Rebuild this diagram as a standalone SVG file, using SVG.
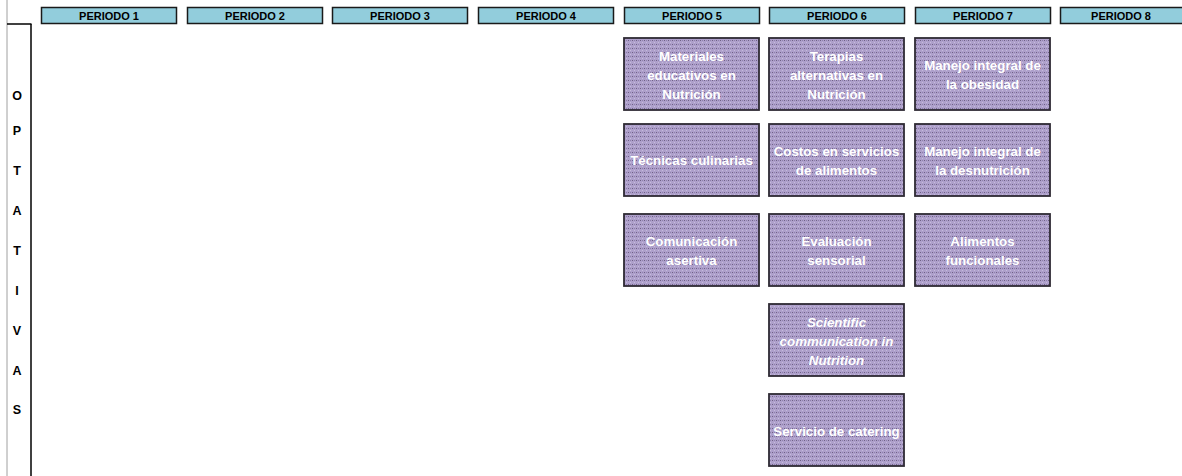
<svg xmlns="http://www.w3.org/2000/svg" width="1182" height="476" viewBox="0 0 1182 476">
<style>
.hdr rect{fill:#92cddc;stroke:#1a1a1a;stroke-width:1.5}
.hdr text{font-family:"Liberation Sans",Arial,sans-serif;font-weight:bold;font-size:11px;fill:#000;text-anchor:middle}
.node rect{fill:url(#dots);stroke:#2e2a33;stroke-width:1.8}
.node text{font-family:"Liberation Sans",Arial,sans-serif;font-weight:bold;font-size:13.3px;fill:#fff;text-anchor:middle}
.side text{font-family:"Liberation Sans",Arial,sans-serif;font-weight:bold;font-size:12.5px;fill:#000;text-anchor:middle}
</style>
<defs>
<pattern id="dots" width="4" height="4" patternUnits="userSpaceOnUse">
<rect width="4" height="4" fill="#aea0cb"/>
<rect x="0" y="0" width="1" height="1" fill="#6f6186"/>
<rect x="2" y="2" width="1" height="1" fill="#c6bcdc"/>
<rect x="2" y="0" width="1" height="1" fill="#8f80ad"/>
</pattern>
</defs>
<rect width="1182" height="476" fill="#fff"/>
<g id="frame">
<line x1="7" y1="0" x2="7" y2="476" stroke="#a0a0a0" stroke-width="1"/>
<line x1="7" y1="24" x2="31.5" y2="24" stroke="#000" stroke-width="1.5"/>
<line x1="31" y1="24" x2="31" y2="476" stroke="#000" stroke-width="1.5"/>
</g>
<g id="side" class="side">
<text x="17" y="100">O</text>
<text x="17" y="135">P</text>
<text x="17" y="175">T</text>
<text x="17" y="215">A</text>
<text x="17" y="255">T</text>
<text x="17" y="295">I</text>
<text x="17" y="335">V</text>
<text x="17" y="375">A</text>
<text x="17" y="414">S</text>
</g>
<g id="headers" class="hdr">
<g id="p1"><rect x="41.5" y="7.5" width="135" height="16"/><text x="109" y="19.5">PERIODO 1</text></g>
<g id="p2"><rect x="187.5" y="7.5" width="135" height="16"/><text x="255" y="19.5">PERIODO 2</text></g>
<g id="p3"><rect x="332.5" y="7.5" width="135" height="16"/><text x="400" y="19.5">PERIODO 3</text></g>
<g id="p4"><rect x="478.5" y="7.5" width="135" height="16"/><text x="546" y="19.5">PERIODO 4</text></g>
<g id="p5"><rect x="624.5" y="7.5" width="135" height="16"/><text x="692" y="19.5">PERIODO 5</text></g>
<g id="p6"><rect x="769.5" y="7.5" width="135" height="16"/><text x="837" y="19.5">PERIODO 6</text></g>
<g id="p7"><rect x="915.5" y="7.5" width="135" height="16"/><text x="983" y="19.5">PERIODO 7</text></g>
<g id="p8"><rect x="1060.5" y="7.5" width="135" height="16"/><text x="1121" y="19.5">PERIODO 8</text></g>
</g>
<g id="connectors"></g>
<g id="n1" class="node"><rect x="624" y="38" width="135" height="72"/><text x="691.5" y="61">Materiales</text><text x="691.5" y="80">educativos en</text><text x="691.5" y="99">Nutrición</text></g>
<g id="n2" class="node"><rect x="769" y="38" width="135" height="72"/><text x="836.5" y="61">Terapias</text><text x="836.5" y="80">alternativas en</text><text x="836.5" y="99">Nutrición</text></g>
<g id="n3" class="node"><rect x="915" y="38" width="135" height="72"/><text x="982.5" y="69.5">Manejo integral de</text><text x="982.5" y="88.5">la obesidad</text></g>
<g id="n4" class="node"><rect x="624" y="124" width="135" height="72"/><text x="691.5" y="165">Técnicas culinarias</text></g>
<g id="n5" class="node"><rect x="769" y="124" width="135" height="72"/><text x="836.5" y="155.5">Costos en servicios</text><text x="836.5" y="174.5">de alimentos</text></g>
<g id="n6" class="node"><rect x="915" y="124" width="135" height="72"/><text x="982.5" y="155.5">Manejo integral de</text><text x="982.5" y="174.5">la desnutrición</text></g>
<g id="n7" class="node"><rect x="624" y="214" width="135" height="72"/><text x="691.5" y="245.5">Comunicación</text><text x="691.5" y="264.5">asertiva</text></g>
<g id="n8" class="node"><rect x="769" y="214" width="135" height="72"/><text x="836.5" y="245.5">Evaluación</text><text x="836.5" y="264.5">sensorial</text></g>
<g id="n9" class="node"><rect x="915" y="214" width="135" height="72"/><text x="982.5" y="245.5">Alimentos</text><text x="982.5" y="264.5">funcionales</text></g>
<g id="n10" class="node"><rect x="769" y="304" width="135" height="72"/><text x="836.5" y="327" font-style="italic">Scientific</text><text x="836.5" y="346" font-style="italic">communication in</text><text x="836.5" y="365" font-style="italic">Nutrition</text></g>
<g id="n11" class="node"><rect x="769" y="394" width="135" height="72"/><text x="836.5" y="435.5">Servicio de catering</text></g>
</svg>
